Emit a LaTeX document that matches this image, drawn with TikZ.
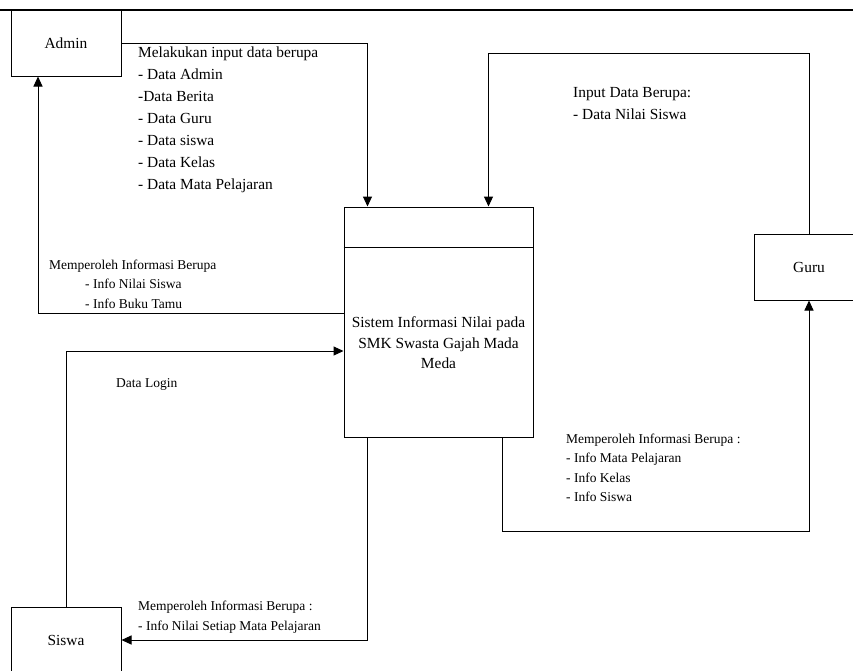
\documentclass[tikz,border=0pt]{standalone}
\usepackage{fontspec}
\setmainfont{Liberation Serif}
\usetikzlibrary{arrows.meta}
\begin{document}
\begin{tikzpicture}[x=1pt,y=-1pt,
  entity/.style={draw,line width=1pt,minimum width=110pt,minimum height=66pt,inner sep=0pt,font=\fontsize{15.4}{20}\selectfont},
  proc/.style={draw,line width=1pt,minimum width=189pt,minimum height=230pt,inner sep=0pt},
  flow/.style={line width=1pt,-{Triangle[length=10pt,width=9pt]}},
  bigtxt/.style={anchor=west,inner sep=0pt,align=left,font=\fontsize{15.4}{22}\selectfont},
  smalltxt/.style={anchor=west,inner sep=0pt,align=left,font=\fontsize{13.5}{19.5}\selectfont}]
\useasboundingbox (0,0) rectangle (853,670);
\clip (0,0) rectangle (853,670);
\fill[white] (0,0) rectangle (853,670);
% entities
\node[entity] (admin) at (66,43) {Admin};
\node[entity] (guru) at (809,267) {Guru};
\node[entity] (siswa) at (66,640) {Siswa};
% process
\node[proc] (sys) at (438.5,322) {};
\draw[line width=1pt] ([yshift=-41pt]sys.north west) -- ([yshift=-41pt]sys.north east);
\node[align=center,inner sep=0pt,font=\fontsize{15.4}{20.5}\selectfont] (systxt) at (438.5,343)
  {Sistem Informasi Nilai pada\\SMK Swasta Gajah Mada\\Meda};
% top rule
\coordinate (tl) at (0,10);
\coordinate (tr) at (853,10);
\draw[line width=2.5pt] (tl) -- (tr);
% connectors
\draw[flow] (admin.east) -| ([xshift=24pt]sys.north west);
\draw[flow] (guru.north) |- ([xshift=145pt,yshift=153pt]sys.north west) -- ([xshift=145pt]sys.north west);
\draw[flow] ([yshift=9pt]sys.west) -| ([xshift=-28pt]admin.south);
\draw[flow] (siswa.north) |- ([yshift=-29pt]sys.west);
\draw[flow] ([xshift=24pt]sys.south west) |- (siswa.east);
\draw[flow] ([xshift=159pt]sys.south west) -- ([xshift=159pt,yshift=-94pt]sys.south west) -| (guru.south);
% labels
\node[bigtxt] (l1) at (138,119.5) {Melakukan input data berupa\\- Data Admin\\-Data Berita\\- Data Guru\\- Data siswa\\- Data Kelas\\- Data Mata Pelajaran};
\node[smalltxt] (l2) at (49,284) {Memperoleh Informasi Berupa\\\hspace*{36pt}- Info Nilai Siswa\\\hspace*{36pt}- Info Buku Tamu};
\node[bigtxt] (l3) at (573,104) {Input Data Berupa:\\- Data Nilai Siswa};
\node[smalltxt] (l4) at (116,384) {Data Login};
\node[smalltxt] (l5) at (566,468) {Memperoleh Informasi Berupa :\\- Info Mata Pelajaran\\- Info Kelas\\- Info Siswa};
\node[smalltxt] (l6) at (138,617) {Memperoleh Informasi Berupa :\\- Info Nilai Setiap Mata Pelajaran};
\end{tikzpicture}
\end{document}
